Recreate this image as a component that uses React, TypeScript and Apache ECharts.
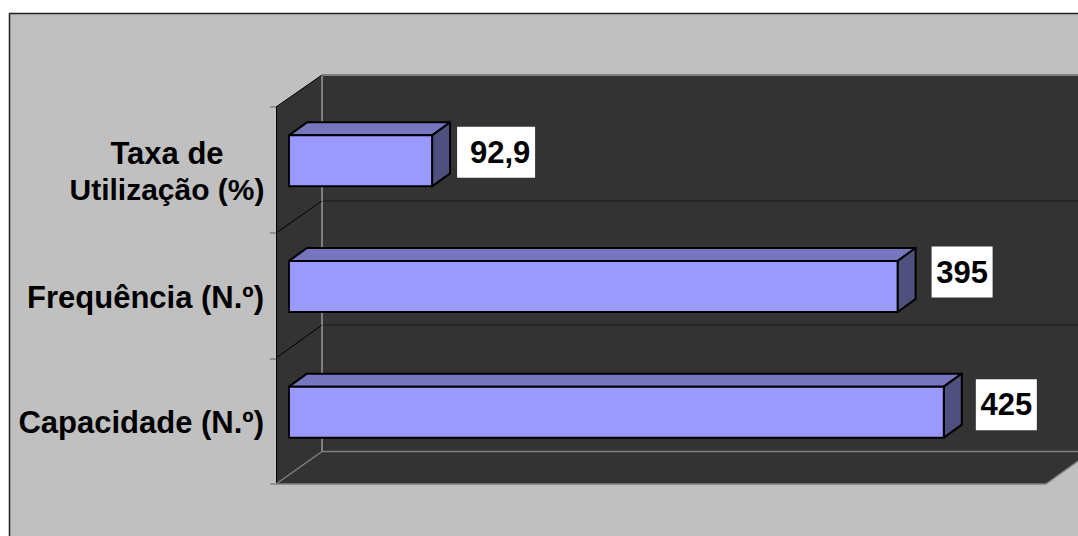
import React, { useEffect, useRef } from "react";
import * as echarts from "echarts";

const categories = ["Capacidade (N.º)", "Frequência (N.º)", "Taxa de\nUtilização (%)"];
const values = [425, 395, 92.9];
const valueLabels = ["425", "395", "92,9"];
// label box placement relative to the bar end: gap, width, vertical shift, text shift
const labelGap = [32, 34, 25];
const labelWidth = [61, 61, 78];
const labelShiftY = [-7.5, -14.5, -8.5];
const labelTextShift = [0, 0, 4];

const FONT = '"Liberation Sans", Arial, sans-serif';
const GREY = "#808080";
const WALL = "#333333";

export default function App() {
  const ref = useRef<HTMLDivElement>(null);
  useEffect(() => {
    document.body.style.margin = "0";
    const chart = echarts.init(ref.current!, null, { renderer: "svg" });
    const line = (x1: number, y1: number, x2: number, y2: number, stroke: string, lineWidth = 1) => ({
      type: "line",
      z: 1,
      silent: true,
      shape: { x1, y1, x2, y2 },
      style: { stroke, lineWidth },
    });
    chart.setOption({
      animation: false,
      backgroundColor: "#ffffff",
      graphic: [
        { type: "rect", z: 0, shape: { x: 9.5, y: 13.5, width: 1090, height: 540 }, style: { fill: "#C0C0C0", stroke: "#222222", lineWidth: 1.5 } },
        { type: "polygon", z: 0, shape: { points: [[276, 107], [322, 75], [1090, 75], [1090, 452], [1078, 461], [1046, 484], [276, 484]] }, style: { fill: WALL } },
        line(322, 75, 1078, 75, GREY, 2),
        line(322, 75, 322, 452, GREY, 2),
        line(322, 451.5, 1078, 451.5, GREY, 1.5),
        line(276, 484, 1046, 484, GREY, 1.5),
        line(276, 484, 322, 451.5, GREY, 1.5),
        line(1046, 484, 1078, 461, GREY, 1.5),
        line(323, 201, 1078, 201, "#222222", 1.5),
        line(323, 325, 1078, 325, "#222222", 1.5),
        line(276, 107, 322, 75, "#000000", 1),
        line(276, 233, 322, 201, "#000000", 1),
        line(276, 358, 322, 325, "#000000", 1),
      ],
      grid: { left: 276, top: 107, width: 770, height: 377, containLabel: false },
      xAxis: { type: "value", min: -8.4, max: 491.3, show: false },
      yAxis: {
        type: "category",
        data: categories,
        axisLine: { show: true, onZero: false, lineStyle: { color: "#000000", width: 1 } },
        axisTick: { show: true, length: 6, lineStyle: { color: GREY, width: 1.5 } },
        splitLine: { show: false },
        axisLabel: {
          margin: 12,
          color: "#000000",
          fontFamily: FONT,
          fontWeight: "bold",
          fontSize: 31,
          lineHeight: 37,
          align: "right",
          padding: [3, 0, 0, 0],
          formatter: (v: string) => {
            if (!v.includes("\n")) return v;
            const [a, b] = v.split("\n");
            return `{t|${a}}\n{u|${b}}`;
          },
          rich: {
            t: { width: 194, align: "center", fontFamily: FONT, fontWeight: "bold", fontSize: 31, lineHeight: 36, color: "#000000" },
            u: { width: 194, align: "center", fontFamily: FONT, fontWeight: "bold", fontSize: 30, lineHeight: 36, color: "#000000" },
          },
        },
      },
      series: [
        {
          type: "custom",
          coordinateSystem: "cartesian2d",
          z: 5,
          clip: false,
          data: values.map((v, i) => [v, i]),
          encode: { x: 0, y: 1 },
          renderItem: (params: any, api: any) => {
            const i = params.dataIndex;
            const end = api.coord([api.value(0), api.value(1)]);
            const base = api.coord([0, api.value(1)]);
            const cy = end[1] - 9;
            const h = 51;
            const dx = 18;
            const dy = 13;
            const x0 = base[0];
            const x1 = end[0];
            const y0 = cy - h / 2;
            const y1 = cy + h / 2;
            const edge = { stroke: "#000000", lineWidth: 2, lineJoin: "round" };
            const boxX = x1 + labelGap[i];
            const boxW = labelWidth[i];
            const boxC = cy + labelShiftY[i];
            return {
              type: "group",
              children: [
                { type: "polygon", shape: { points: [[x0, y0], [x0 + dx, y0 - dy], [x1 + dx, y0 - dy], [x1, y0]] }, style: { fill: "#7676BE", ...edge } },
                { type: "polygon", shape: { points: [[x1, y0], [x1 + dx, y0 - dy], [x1 + dx, y1 - dy], [x1, y1]] }, style: { fill: "#50507F", ...edge } },
                { type: "rect", shape: { x: x0, y: y0, width: x1 - x0, height: h }, style: { fill: "#9999FF", ...edge } },
                { type: "rect", shape: { x: boxX, y: boxC - 25.5, width: boxW, height: 51 }, style: { fill: "#ffffff" } },
                {
                  type: "text",
                  x: boxX + boxW / 2 + labelTextShift[i],
                  y: boxC,
                  style: { text: valueLabels[i], font: `bold 31px ${FONT}`, fill: "#000000", align: "center", verticalAlign: "middle" },
                },
              ],
            };
          },
        },
      ],
    });
    return () => chart.dispose();
  }, []);
  return <div ref={ref} style={{ width: 1078, height: 536 }} />;
}
